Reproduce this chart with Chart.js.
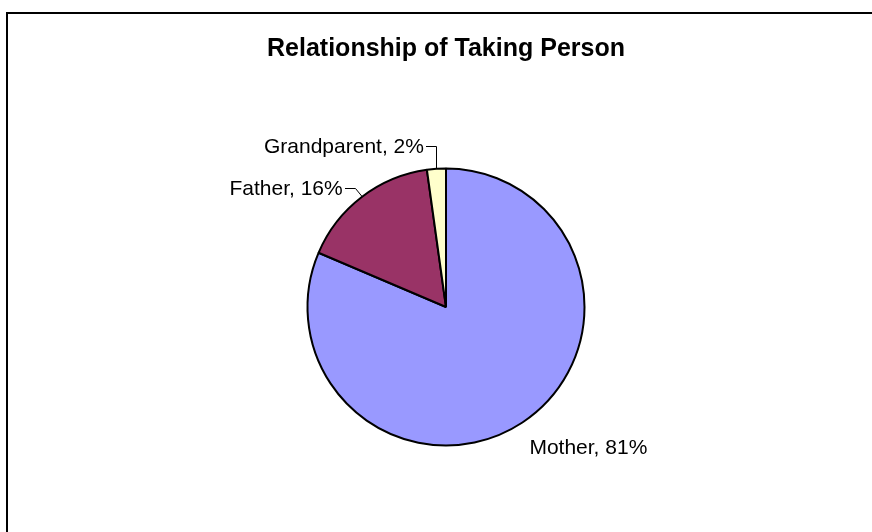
<!DOCTYPE html>
<html>
<head>
<meta charset="utf-8">
<script src="https://cdn.jsdelivr.net/npm/chart.js@4/dist/chart.umd.min.js"></script>
<style>
  html, body { margin: 0; padding: 0; background: #fff; }
  #wrap { position: relative; width: 872px; height: 532px; overflow: hidden; }
  canvas { display: block; }
</style>
</head>
<body>
<div id="wrap"><canvas id="c" width="872" height="532"></canvas></div>
<script>
const titleText = 'Relationship of Taking Person';
const categories = ['Mother', 'Father', 'Grandparent'];
const shares = [81.4, 16.4, 2.2];
const shareLabels = ['81%', '16%', '2%'];
const colors = ['#9999FF', '#993366', '#FFFFCC'];

const FONT = '"Liberation Sans", Arial, sans-serif';

const framePlugin = {
  id: 'frame',
  beforeDraw(chart) {
    const ctx = chart.ctx;
    ctx.save();
    ctx.fillStyle = '#000';
    ctx.fillRect(6, 12, 2, 540);
    ctx.fillRect(6, 12, 880, 2);
    ctx.restore();
  }
};

// label styles per slice: how the text sits relative to the slice's mid-edge point
const labelStyles = [
  { mode: 'below' },
  { mode: 'leftElbow', elbowDx: -6.6, elbowDy: -9.4 },
  { mode: 'leftElbow', elbowDx: 0, elbowDy: -23 }
];

const labelPlugin = {
  id: 'sliceLabels',
  afterDatasetsDraw(chart) {
    const ctx = chart.ctx;
    const meta = chart.getDatasetMeta(0);
    ctx.save();
    ctx.font = '21px ' + FONT;
    ctx.fillStyle = '#000';
    ctx.strokeStyle = '#000';
    ctx.lineWidth = 1;
    meta.data.forEach((arc, i) => {
      const p = arc.getProps(['x', 'y', 'startAngle', 'endAngle', 'outerRadius'], true);
      const mid = (p.startAngle + p.endAngle) / 2;
      const ax = p.x + Math.cos(mid) * p.outerRadius;
      const ay = p.y + Math.sin(mid) * p.outerRadius;
      const text = categories[i] + ', ' + shareLabels[i];
      const st = labelStyles[i];
      if (st.mode === 'below') {
        ctx.textAlign = 'left';
        ctx.textBaseline = 'alphabetic';
        ctx.fillText(text, ax + 7, ay + 31);
      } else {
        const ex = ax + st.elbowDx, ey = ay + st.elbowDy;
        ctx.beginPath();
        ctx.moveTo(Math.round(ax) + 0.5, ay);
        ctx.lineTo(Math.round(ex) + 0.5, Math.round(ey) + 0.5);
        ctx.lineTo(Math.round(ex) - 10, Math.round(ey) + 0.5);
        ctx.stroke();
        ctx.textAlign = 'right';
        ctx.textBaseline = 'alphabetic';
        ctx.fillText(text, ex - 12.5, ey + 7.6);
      }
    });
    ctx.restore();
  }
};

new Chart(document.getElementById('c'), {
  type: 'pie',
  data: {
    labels: categories,
    datasets: [{
      data: shares,
      backgroundColor: colors,
      borderColor: '#000',
      borderWidth: 2
    }]
  },
  options: {
    responsive: false,
    animation: false,
    layout: { padding: { left: 120, right: 100, top: 0, bottom: 85.5 } },
    plugins: {
      legend: { display: false },
      tooltip: { enabled: false },
      title: {
        display: true,
        text: titleText,
        color: '#000',
        font: { family: FONT, size: 25, weight: 'bold', lineHeight: 1.2 },
        padding: { top: 34, bottom: 103.5 }
      }
    }
  },
  plugins: [framePlugin, labelPlugin]
});
</script>
</body>
</html>
